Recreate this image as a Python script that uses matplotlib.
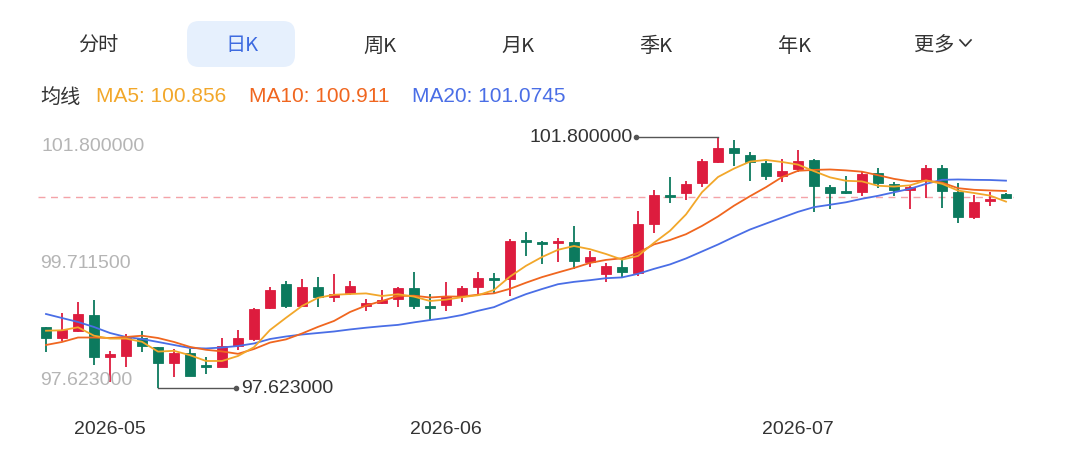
import matplotlib
matplotlib.use('Agg')
import matplotlib.pyplot as plt
from matplotlib.patches import FancyBboxPatch
from matplotlib.lines import Line2D
from matplotlib.transforms import IdentityTransform
import numpy as np

plt.rcParams['font.family'] = ['Liberation Sans', 'Noto Sans CJK SC', 'DejaVu Sans']

# ---------------- data ----------------
opens = [98.637, 98.454, 98.570, 98.836, 98.138, 98.155, 98.454, 98.304, 98.038, 98.205,
         97.989, 97.972, 98.321, 98.437, 98.953, 99.352, 98.986, 99.302, 99.136, 99.202,
         98.986, 99.036, 99.102, 99.285, 98.986, 99.003, 99.152, 99.302, 99.435, 99.435,
         100.066, 100.033, 100.033, 100.050, 99.717, 99.518, 99.634, 99.535, 100.349, 100.814,
         100.864, 101.031, 101.380, 101.612, 101.496, 101.363, 101.147, 101.263, 101.413, 100.964,
         100.881, 100.881, 101.197, 101.014, 100.914, 101.080, 101.280, 100.881, 100.465, 100.731,
         100.848]
closes = [98.454, 98.587, 98.853, 98.138, 98.188, 98.454, 98.321, 98.038, 98.205, 97.822,
          97.972, 98.321, 98.454, 98.936, 99.252, 98.986, 99.302, 99.136, 99.185, 99.318,
          99.036, 99.086, 99.285, 98.986, 98.953, 99.152, 99.285, 99.451, 99.418, 100.066,
          100.050, 100.017, 100.050, 99.734, 99.800, 99.651, 99.551, 100.349, 100.831, 100.798,
          101.014, 101.396, 101.612, 101.529, 101.380, 101.147, 101.230, 101.396, 100.981, 100.864,
          100.864, 101.180, 101.031, 100.914, 100.964, 101.280, 100.897, 100.465, 100.715, 100.748,
          100.781]
highs = [98.640, 98.870, 99.052, 99.086, 98.238, 98.521, 98.570, 98.310, 98.271, 98.271,
         98.138, 98.454, 98.587, 98.953, 99.302, 99.401, 99.435, 99.468, 99.518, 99.401,
         99.102, 99.252, 99.302, 99.551, 99.185, 99.385, 99.318, 99.551, 99.535, 100.100,
         100.216, 100.066, 100.116, 100.316, 99.900, 99.701, 99.784, 100.565, 100.914, 101.130,
         101.064, 101.429, 101.800, 101.745, 101.546, 101.396, 101.429, 101.579, 101.429, 100.997,
         101.147, 101.213, 101.280, 101.047, 100.981, 101.330, 101.330, 101.031, 100.831, 100.881,
         100.856]
lows = [98.221, 98.404, 98.554, 98.005, 97.723, 97.972, 98.221, 97.623, 97.806, 97.815,
        97.856, 97.965, 98.255, 98.404, 98.936, 98.953, 98.980, 98.969, 99.052, 99.169,
        98.903, 99.019, 98.969, 98.936, 98.753, 98.903, 99.052, 99.169, 99.185, 99.152,
        99.817, 99.684, 99.717, 99.601, 99.634, 99.385, 99.468, 99.485, 100.199, 100.698,
        100.748, 100.964, 101.370, 101.313, 101.064, 101.080, 101.047, 101.213, 100.548, 100.598,
        100.848, 100.814, 100.947, 100.814, 100.598, 100.781, 100.615, 100.366, 100.432, 100.648,
        100.773]
ma5 = [98.575, 98.582, 98.632, 98.492, 98.444, 98.444, 98.391, 98.228, 98.241, 98.168,
       98.072, 98.072, 98.155, 98.301, 98.587, 98.790, 98.986, 99.122, 99.172, 99.185,
       99.195, 99.152, 99.182, 99.142, 99.069, 99.092, 99.132, 99.165, 99.252, 99.475,
       99.654, 99.800, 99.920, 99.983, 99.930, 99.850, 99.757, 99.817, 100.036, 100.236,
       100.508, 100.877, 101.130, 101.270, 101.386, 101.413, 101.380, 101.336, 101.227, 101.124,
       101.067, 101.057, 100.984, 100.971, 100.991, 101.074, 101.017, 100.904, 100.864, 100.821,
       100.721]
ma10 = [98.338, 98.388, 98.462, 98.462, 98.454, 98.471, 98.492, 98.454, 98.388, 98.306,
        98.258, 98.231, 98.191, 98.271, 98.378, 98.431, 98.529, 98.639, 98.737, 98.886,
        98.993, 99.069, 99.152, 99.157, 99.127, 99.144, 99.142, 99.174, 99.197, 99.272,
        99.373, 99.466, 99.543, 99.618, 99.702, 99.752, 99.779, 99.869, 100.010, 100.083,
        100.179, 100.317, 100.474, 100.653, 100.811, 100.961, 101.128, 101.233, 101.248, 101.255,
        101.240, 101.218, 101.160, 101.099, 101.057, 101.070, 101.037, 100.944, 100.917, 100.906,
        100.897]
ma20 = [98.853, 98.786, 98.720, 98.637, 98.537, 98.471, 98.437, 98.388, 98.338, 98.288,
        98.280, 98.296, 98.321, 98.363, 98.437, 98.479, 98.512, 98.537, 98.562, 98.596,
        98.625, 98.650, 98.672, 98.714, 98.752, 98.787, 98.836, 98.906, 98.967, 99.079,
        99.183, 99.268, 99.348, 99.387, 99.415, 99.448, 99.461, 99.521, 99.603, 99.677,
        99.776, 99.892, 100.008, 100.135, 100.257, 100.356, 100.454, 100.551, 100.629, 100.669,
        100.710, 100.768, 100.817, 100.876, 100.934, 101.016, 101.083, 101.089, 101.083, 101.080,
        101.069]

month_ticks = [4, 25, 47]
month_labels = ['2026-05', '2026-06', '2026-07']
axis_values = [101.8, 99.7115, 97.623]
axis_labels = ['101.800000', '99.711500', '97.623000']
ref_price = 100.79

tabs = ['分时', '日K', '周K', '月K', '季K', '年K', '更多']
tab_x = [98, 242, 380, 518, 656, 795, 934]
legend_title = '均线'
legend_texts = ['MA5: 100.856', 'MA10: 100.911', 'MA20: 101.0745']

# ---------------- style ----------------
RED = '#dd1c3e'
GREEN = '#0c7a5e'
C_MA5 = '#f2a72a'
C_MA10 = '#f0661f'
C_MA20 = '#4a6ee6'
TXT = '#333333'
GREY = '#b5b5b5'

W, H = 1080, 460
fig = plt.figure(figsize=(W / 100, H / 100), dpi=100)
fig.patch.set_facecolor('white')

ax = fig.add_axes([38 / W, 60 / H, 976 / W, 280 / H])
ax.set_xlim(-0.5, 60.5)
ax.set_ylim(97.440, 102.094)
for s in ax.spines.values():
    s.set_visible(False)
ax.set_yticks([])
ax.set_xticks(month_ticks)
ax.set_xticklabels(month_labels, fontsize=14, color=TXT)
ax.tick_params(axis='x', length=0, pad=15)

x = np.arange(len(opens))
o = np.array(opens); c = np.array(closes)
hi = np.array(highs); lo = np.array(lows)
up = c >= o
colors = np.where(up, RED, GREEN)

# wicks
ax.vlines(x, lo, hi, colors=colors, linewidth=1.3, zorder=2)
# bodies
bottoms = np.minimum(o, c)
heights = np.maximum(np.abs(c - o), 0.025)
ax.bar(x, heights, bottom=bottoms, width=0.68, color=colors, edgecolor=colors,
       linewidth=0.6, zorder=3)

# moving averages
ax.plot(x, ma20, color=C_MA20, lw=1.3, zorder=4)
ax.plot(x, ma10, color=C_MA10, lw=1.3, zorder=4)
ax.plot(x, ma5, color=C_MA5, lw=1.3, zorder=4)

# reference dashed line
ax.axhline(ref_price, color='#f4a3a8', lw=1.0, ls=(0, (5, 4)), zorder=1)

# y labels
ytr = ax.get_yaxis_transform()
ax.text(0.004, axis_values[0], axis_labels[0], transform=ytr, ha='left', va='top',
        fontsize=14, color=GREY)
ax.text(0.002, axis_values[1], axis_labels[1], transform=ytr, ha='left', va='center',
        fontsize=14, color=GREY)
ax.text(0.002, axis_values[2], axis_labels[2], transform=ytr, ha='left', va='bottom',
        fontsize=14, color=GREY)

# max / min annotations
imax = int(np.argmax(hi)); imin = int(np.argmin(lo))
dmax = imax - 5.1
ax.plot([dmax, imax], [hi[imax], hi[imax]], color='#555555', lw=1.0, zorder=5)
ax.plot([dmax], [hi[imax]], 'o', color='#555555', ms=3, zorder=5)
ax.text(dmax - 0.2, hi[imax], f'{hi[imax]:.6f}', ha='right', va='center',
        fontsize=14, color=TXT, zorder=6)
dmin = imin + 4.9
ax.plot([imin, dmin], [lo[imin], lo[imin]], color='#555555', lw=1.0, zorder=5)
ax.plot([dmin], [lo[imin]], 'o', color='#555555', ms=3, zorder=5)
ax.text(dmin + 0.3, lo[imin], f'{lo[imin]:.6f}', ha='left', va='center',
        fontsize=14, color=TXT, zorder=6)

# ---------------- header tabs ----------------
box = FancyBboxPatch((187, H - 68), 108, 46, boxstyle='round,pad=0,rounding_size=12',
                     transform=IdentityTransform(), facecolor='#e6f0fd', edgecolor='none')
fig.add_artist(box)
for i, (t, tx) in enumerate(zip(tabs, tab_x)):
    col = '#3e6be0' if i == 1 else TXT
    fig.text(tx / W, 1 - 46 / H, t, ha='center', va='center', fontsize=14.5, color=col,
             family=['Noto Sans CJK SC', 'DejaVu Sans'])
# chevron after 更多
chev = Line2D([960, 965.5, 971], [H - 41, H - 47, H - 41], transform=IdentityTransform(),
              color=TXT, lw=1.2)
fig.add_artist(chev)

# legend line
fig.text(40 / W, 1 - 97 / H, legend_title, ha='left', va='center', fontsize=14.5, color=TXT,
         family=['Noto Sans CJK SC', 'DejaVu Sans'])
for t, lx, col in zip(legend_texts, [96, 249, 412], [C_MA5, C_MA10, C_MA20]):
    fig.text(lx / W, 1 - 97 / H, t, ha='left', va='center', fontsize=15, color=col)

fig.savefig('out.png', dpi=100, facecolor='white')
